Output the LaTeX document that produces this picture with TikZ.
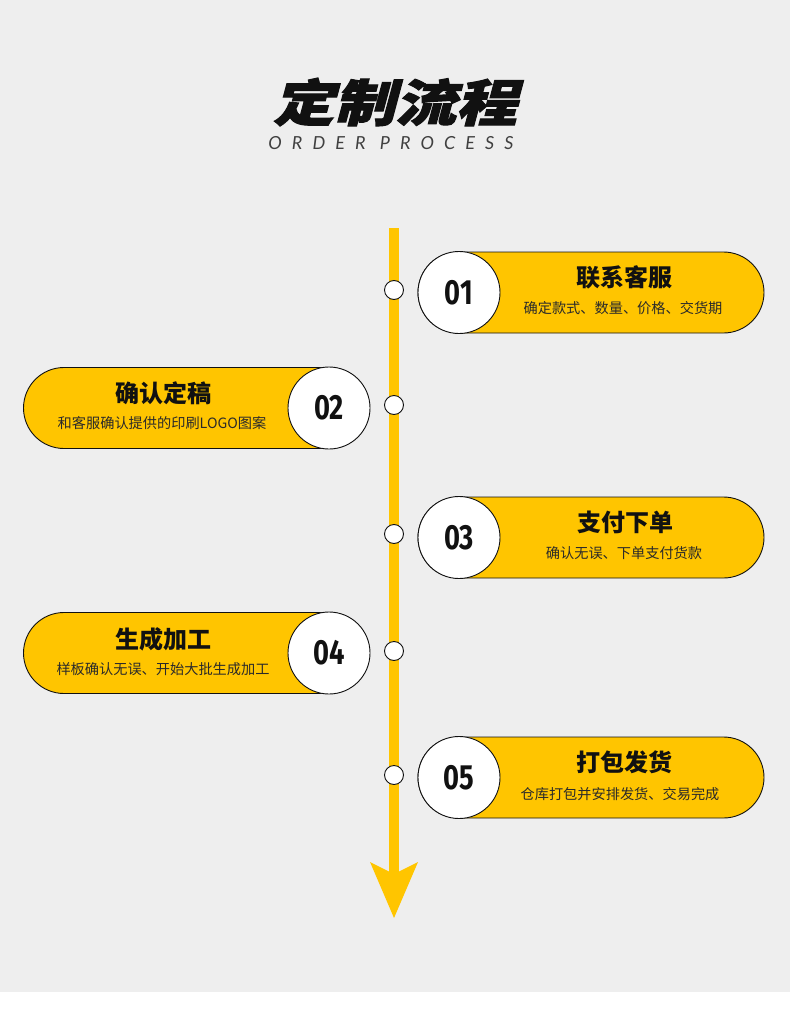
\documentclass[tikz,border=0pt]{standalone}
\usepackage{fontspec}
\setmainfont{Noto Sans CJK SC}
\newfontfamily\cjktitle[FakeSlant=0.22,FakeBold=2]{Noto Sans CJK SC}
\newfontfamily\engfont[LetterSpace=56]{Lato}
\newfontfamily\numfont{Fira Sans}
\definecolor{bg}{HTML}{EEEEEE}
\definecolor{gold}{HTML}{FFC500}
\definecolor{ink}{HTML}{111111}
\definecolor{subink}{HTML}{2A2A2A}
\definecolor{gray4}{HTML}{404040}
\begin{document}
\begin{tikzpicture}[x=1pt,y=-1pt,
  pill/.style={draw=ink,line width=0.9pt,fill=gold,rounded corners=40.5pt,minimum width=346pt,minimum height=81pt,inner sep=0pt},
  numcirc/.style={circle,draw=ink,line width=0.9pt,fill=white,minimum size=82pt,inner sep=0pt,font=\numfont\bfseries\fontsize{35}{35}\selectfont,text=ink},
  dot/.style={circle,draw=ink,line width=0.9pt,fill=white,minimum size=19pt,inner sep=0pt},
  ttl/.style={font=\bfseries\fontsize{24}{24}\selectfont,text=ink,inner sep=0pt},
  sub/.style={font=\fontsize{14.2}{14.2}\selectfont,text=subink,inner sep=0pt},
  spine/.style={draw=gold,line width=10pt}]
\fill[bg] (0,0) rectangle (790,992);
\fill[white] (0,992) rectangle (790,1014);
\useasboundingbox (0,0) rectangle (790,1014);
% heading
\node[inner sep=0pt,text=ink] (head) at (395,102) {\scalebox{1.22}[1]{\cjktitle\bfseries\fontsize{50}{50}\selectfont 定制流程}};
\node[inner sep=0pt,text=gray4] (headen) at (391,143) {\engfont\itshape\fontsize{18}{18}\selectfont ORDER PROCESS};
% spine and arrow
\coordinate (top) at (394,228);
\coordinate (shaftend) at (394,874);
\coordinate (hl) at (370,862);
\coordinate (hr) at (418,862);
\coordinate (tip) at (394,918);
\draw[spine] (top) -- (shaftend);
\fill[gold] (hl) -- (shaftend) -- (hr) -- (tip) -- cycle;
% dots
\node[dot] (d1) at (394,290) {};
\node[dot] (d2) at (394,405) {};
\node[dot] (d3) at (394,534) {};
\node[dot] (d4) at (394,651) {};
\node[dot] (d5) at (394,775) {};
% step 1
\node[pill] (p1) at (591,292.5) {};
\node[numcirc] (n1) at (459,292.5) {\scalebox{0.78}[1]{01}};
\node[ttl] (t1) at (624,277) {联系客服};
\node[sub] (s1) at (623,308) {确定款式、数量、价格、交货期};
% step 2
\node[pill] (p2) at (196.5,408) {};
\node[numcirc] (n2) at (329,408) {\scalebox{0.78}[1]{02}};
\node[ttl] (t2) at (163,393) {确认定稿};
\node[sub] (s2) at (162,423) {和客服确认提供的印刷LOGO图案};
% step 3
\node[pill] (p3) at (591,537.5) {};
\node[numcirc] (n3) at (459,537.5) {\scalebox{0.78}[1]{03}};
\node[ttl] (t3) at (625,522) {支付下单};
\node[sub] (s3) at (624,553) {确认无误、下单支付货款};
% step 4
\node[pill] (p4) at (196.5,653) {};
\node[numcirc] (n4) at (329,653) {\scalebox{0.78}[1]{04}};
\node[ttl] (t4) at (163,639) {生成加工};
\node[sub] (s4) at (163,669) {样板确认无误、开始大批生成加工};
% step 5
\node[pill] (p5) at (591,777.5) {};
\node[numcirc] (n5) at (459,777.5) {\scalebox{0.78}[1]{05}};
\node[ttl] (t5) at (624,762) {打包发货};
\node[sub] (s5) at (620,794) {仓库打包并安排发货、交易完成};
\end{tikzpicture}
\end{document}
